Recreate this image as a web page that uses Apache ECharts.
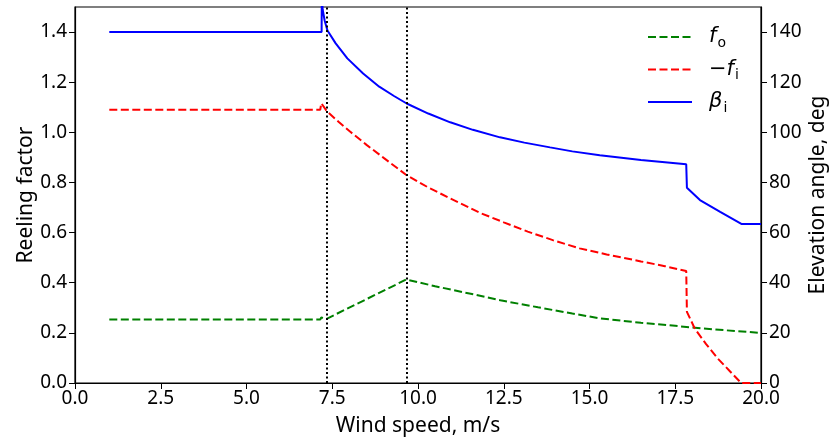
<!DOCTYPE html>
<html>
<head>
<meta charset="utf-8">
<script src="https://cdn.jsdelivr.net/npm/echarts@6/dist/echarts.min.js"></script>
<style>
  html, body { margin: 0; padding: 0; background: #fff; }
  #chart { width: 831px; height: 442px; }
</style>
</head>
<body>
<div id="chart"></div>
<script>
// reeling factor f_o (left axis)
var foX = [1, 7.15, 7.18, 7.35, 9.66, 10.5, 11.5, 12.4, 13.5, 14.5, 15.3, 16.5, 17.5, 18, 19, 20];
var foY = [0.253, 0.253, 0.261, 0.257, 0.413, 0.386, 0.357, 0.33, 0.302, 0.277, 0.258, 0.240, 0.228, 0.221, 0.21, 0.2];

// -f_i (left axis)
var fiX = [1, 7.15, 7.18, 7.35, 7.7, 8.0, 8.5, 9.0, 9.66, 10.3, 10.93, 11.8, 12.5, 13.2, 13.93, 14.71, 15.5, 16.5, 17.2, 17.82, 17.84, 18.07, 18.4, 18.74, 19.1, 19.42, 20];
var fiY = [1.09, 1.09, 1.116, 1.083, 1.04, 1.005, 0.95, 0.898, 0.83, 0.78, 0.737, 0.679, 0.641, 0.604, 0.57, 0.537, 0.513, 0.485, 0.466, 0.447, 0.284, 0.217, 0.155, 0.0975, 0.046, 0.0, 0.0];

// beta_i, elevation angle in deg (right axis)
var betaX = [1, 7.19, 7.195, 7.22, 7.28, 7.36, 7.6, 7.94, 8.4, 8.87, 9.3, 9.67, 10.3, 10.94, 11.6, 12.39, 13.1, 13.85, 14.5, 15.3, 16.5, 17.2, 17.82, 17.84, 18.22, 18.81, 19.44, 20];
var betaY = [140, 140, 155, 149, 144.5, 140.6, 135.5, 129.5, 123.5, 118.2, 114.5, 111.5, 107.5, 104, 101, 98, 95.9, 94, 92.4, 90.9, 89, 88.1, 87.3, 77.9, 73, 68.3, 63.4, 63.4];

// vertical dotted markers
var markerX = [7.35, 9.66];

// ticks
var xTicks = [0, 2.5, 5, 7.5, 10, 12.5, 15, 17.5, 20];
var leftTicks = [0, 0.2, 0.4, 0.6, 0.8, 1.0, 1.2, 1.4];
var rightTicks = [0, 20, 40, 60, 80, 100, 120, 140];

function pairs(xs, ys) {
    return xs.map(function (x, i) { return [x, ys[i]]; });
}

var font = 'Noto Sans';
var axisCommon = {
    axisLine: { show: true, lineStyle: { color: '#000', width: 1.2 } },
    axisTick: { show: true, inside: false, length: 6, lineStyle: { color: '#000', width: 1 } },
    splitLine: { show: false },
    nameMoveOverlap: false,
    nameTextStyle: { color: '#000', fontSize: 21, fontFamily: font }
};

var chart = echarts.init(document.getElementById('chart'), null, { renderer: 'canvas' });

chart.setOption({
    animation: false,
    backgroundColor: '#fff',
    grid: {
        left: 75, right: 70, top: 7, bottom: 59,
        outerBoundsMode: 'none',
        containLabel: false,
        show: true, borderColor: '#000', borderWidth: 1.2, backgroundColor: 'transparent'
    },
    legend: {
        orient: 'vertical',
        left: 647,
        top: 24,
        padding: 0,
        itemWidth: 44,
        itemHeight: 20,
        itemGap: 6.5,
        itemStyle: { opacity: 0 },
        data: ['fo', 'fi', 'beta'],
        formatter: function (name) {
            if (name === 'fo') return '{it|f}{sub|o}';
            if (name === 'fi') return '{n|\u2212}{it|f}{sub|i}';
            return '{it|\u03b2}{sub|i}';
        },
        textStyle: {
            color: '#000',
            padding: [0, 0, 0, 12],
            rich: {
                it: { fontFamily: 'DejaVu Sans', fontStyle: 'italic', fontSize: 21, color: '#000', lineHeight: 24 },
                n: { fontFamily: 'DejaVu Sans', fontSize: 21, color: '#000', lineHeight: 24 },
                sub: { fontFamily: 'DejaVu Sans', fontSize: 14, color: '#000', lineHeight: 24, padding: [12, 0, 0, 1] }
            }
        }
    },
    xAxis: Object.assign({}, axisCommon, {
        type: 'value',
        min: 0, max: 20, interval: 2.5,
        name: 'Wind speed, m/s',
        nameLocation: 'middle',
        nameGap: 33,
        axisTick: Object.assign({}, axisCommon.axisTick, { customValues: xTicks }),
        axisLabel: {
            customValues: xTicks,
            color: '#000', fontSize: 19, fontFamily: font, margin: 6,
            formatter: function (v) { return v.toFixed(1); }
        }
    }),
    yAxis: [
        Object.assign({}, axisCommon, {
            type: 'value',
            min: 0, max: 1.5, interval: 0.2,
            position: 'left',
            name: 'Reeling factor',
            nameLocation: 'middle',
            nameRotate: 90,
            nameGap: 38,
            axisTick: Object.assign({}, axisCommon.axisTick, { customValues: leftTicks }),
            axisLabel: {
                customValues: leftTicks,
                color: '#000', fontSize: 19, fontFamily: font, margin: 8,
                formatter: function (v) { return v.toFixed(1); }
            }
        }),
        Object.assign({}, axisCommon, {
            type: 'value',
            min: 0, max: 150, interval: 20,
            position: 'right',
            name: 'Elevation angle, deg',
            nameLocation: 'middle',
            nameRotate: 90,
            nameGap: 47,
            axisTick: Object.assign({}, axisCommon.axisTick, { customValues: rightTicks }),
            axisLabel: {
                customValues: rightTicks,
                color: '#000', fontSize: 19, fontFamily: font, margin: 8
            }
        })
    ],
    series: [
        {
            name: 'fo',
            type: 'line',
            yAxisIndex: 0,
            data: pairs(foX, foY),
            symbol: 'none',
            clip: true,
            color: '#008000',
            lineStyle: { color: '#008000', width: 2, type: [8, 3.5] },
            markLine: {
                silent: true,
                symbol: ['none', 'none'],
                label: { show: false },
                lineStyle: { color: '#000', width: 2, type: [2, 2.5] },
                data: markerX.map(function (x) { return { xAxis: x }; })
            }
        },
        {
            name: 'fi',
            type: 'line',
            yAxisIndex: 0,
            data: pairs(fiX, fiY),
            symbol: 'none',
            clip: true,
            color: '#ff0000',
            lineStyle: { color: '#ff0000', width: 2, type: [8, 3.5] }
        },
        {
            name: 'beta',
            type: 'line',
            yAxisIndex: 1,
            data: pairs(betaX, betaY),
            symbol: 'none',
            clip: true,
            color: '#0000ff',
            lineStyle: { color: '#0000ff', width: 2 }
        }
    ]
});
</script>
</body>
</html>
